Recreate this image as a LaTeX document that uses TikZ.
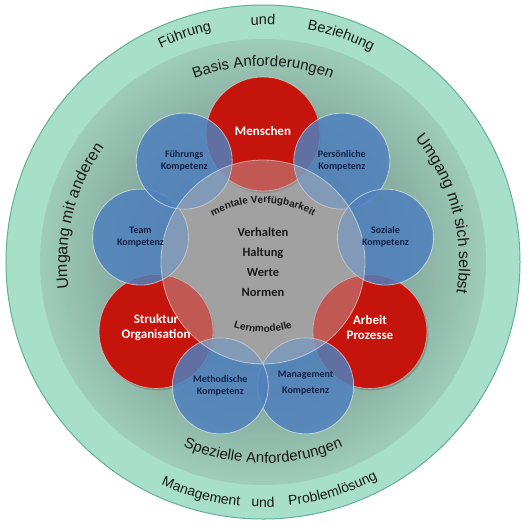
\documentclass[tikz,border=0pt]{standalone}
\usepackage{fontspec}
\newfontfamily\ringfont{Liberation Sans}
\newfontfamily\labelfont{Carlito}
\usepackage{xcolor}
\usepackage{tikz}
\usetikzlibrary{positioning}
\usetikzlibrary{decorations.text}

\definecolor{mintlight}{RGB}{168,223,203}
\definecolor{mintedge}{RGB}{98,176,150}
\definecolor{ringouter}{RGB}{158,204,187}
\definecolor{ringinner}{RGB}{122,156,143}
\definecolor{coregray}{RGB}{142,142,142}
\definecolor{coreveil}{RGB}{190,190,190}
\definecolor{redfill}{RGB}{196,20,12}
\definecolor{bluefill}{RGB}{79,129,189}
\definecolor{navytext}{RGB}{20,34,74}
\definecolor{ringtext}{RGB}{25,25,25}

\begin{document}
\begin{tikzpicture}[x=1pt,y=1pt,
  shadowcirc/.style={fill=black, fill opacity=0.18},
  redcirc/.style={fill=redfill, draw=white, draw opacity=0.45, line width=0.8pt},
  bluecirc/.style={fill=bluefill, fill opacity=0.85, draw=white, draw opacity=0.55, line width=0.8pt},
  redlabel/.style={font=\labelfont\bfseries\fontsize{13}{15}\selectfont, text=white, align=center},
  bluelabel/.style={font=\labelfont\bfseries\fontsize{10}{12}\selectfont, text=navytext, align=center},
  arctext/.style={decorate, decoration={text along path, text align=center, text={#1}}}]
  \useasboundingbox (-263,-261) rectangle (269,262);
  \fill[white] (-263,-261) rectangle (269,262);

  \coordinate (O) at (0,0);
  \def\outerradius{257}
  \def\midradius{223}
  \def\coreradius{102}
  \def\redradius{57}
  \def\blueradius{48}

  % rings
  \fill[mintlight] (O) circle[radius=\outerradius];
  \draw[mintedge, line width=1pt] (O) circle[radius=\outerradius];
  \foreach \k in {0,...,40} {
    \pgfmathsetmacro\rr{\midradius-\k*3}
    \pgfmathtruncatemacro\pc{100-\k*2.5}
    \fill[ringouter!\pc!ringinner] (O) circle[radius=\rr];
  }
  \fill[coregray] (O) circle[radius=\coreradius];

  % circle centres
  \path (O) ++(90:128) coordinate (K1);
  \path (O) ++(52:128) coordinate (K2);
  \path (O) ++(11.5:125) coordinate (K3);
  \path (O) ++(-33:127.5) coordinate (K4);
  \path (O) ++(-71:131) coordinate (K5);
  \path (O) ++(-109:131) coordinate (K6);
  \path (O) ++(-147:127.5) coordinate (K7);
  \path (O) ++(168.5:125) coordinate (K8);
  \path (O) ++(128:128) coordinate (K9);

  % shadows
  \fill[shadowcirc] ([shift={(1.5,-2)}]K1) circle[radius=\redradius];
  \fill[shadowcirc] ([shift={(1.5,-2)}]K4) circle[radius=\redradius];
  \fill[shadowcirc] ([shift={(1.5,-2)}]K7) circle[radius=\redradius];

  \filldraw[redcirc] (K1) circle[radius=\redradius];
  \filldraw[redcirc] (K4) circle[radius=\redradius];
  \filldraw[redcirc] (K7) circle[radius=\redradius];

  \filldraw[bluecirc] (K2) circle[radius=\blueradius];
  \filldraw[bluecirc] (K3) circle[radius=\blueradius];
  \filldraw[bluecirc] (K5) circle[radius=\blueradius];
  \filldraw[bluecirc] (K6) circle[radius=\blueradius];
  \filldraw[bluecirc] (K8) circle[radius=\blueradius];
  \filldraw[bluecirc] (K9) circle[radius=\blueradius];

  % core veil
  \filldraw[fill=coreveil, fill opacity=0.4, draw=white, draw opacity=0.5, line width=0.8pt]
    (O) circle[radius=\coreradius];

  % ring texts
  \path[arctext={|\ringfont\fontsize{14.5}{14.5}\selectfont\color{ringtext}|Führung}]
    (169:237) arc[start angle=169, end angle=49, radius=237];
  \path[arctext={|\ringfont\fontsize{14.5}{14.5}\selectfont\color{ringtext}|und}]
    (150:237) arc[start angle=150, end angle=30, radius=237];
  \path[arctext={|\ringfont\fontsize{14.5}{14.5}\selectfont\color{ringtext}|Beziehung}]
    (131:237) arc[start angle=131, end angle=11, radius=237];
  \path[arctext={|\ringfont\fontsize{15}{15}\selectfont\color{ringtext}|Basis Anforderungen}]
    (150:196) arc[start angle=150, end angle=30, radius=196];
  \path[arctext={|\ringfont\fontsize{16}{16}\selectfont\color{ringtext}|Umgang mit anderen}]
    (226:196) arc[start angle=226, end angle=106, radius=196];
  \path[arctext={|\ringfont\fontsize{16}{16}\selectfont\color{ringtext}|Umgang mit sich selbst}]
    (75:196) arc[start angle=75, end angle=-45, radius=196];
  \path[arctext={|\ringfont\fontsize{15}{15}\selectfont\color{ringtext}|Spezielle Anforderungen}]
    (210:201) arc[start angle=210, end angle=330, radius=201];
  \path[arctext={|\ringfont\fontsize{14}{14}\selectfont\color{ringtext}|Management}]
    (195:245) arc[start angle=195, end angle=315, radius=245];
  \path[arctext={|\ringfont\fontsize{14}{14}\selectfont\color{ringtext}|und}]
    (210:245) arc[start angle=210, end angle=330, radius=245];
  \path[arctext={|\ringfont\fontsize{14}{14}\selectfont\color{ringtext}|Problemlösung}]
    (227:245) arc[start angle=227, end angle=347, radius=245];

  % core texts
  \path[arctext={|\ringfont\bfseries\fontsize{10}{10}\selectfont\color{ringtext}|mentale Verfügbarkeit}]
    ([shift={(0,-44)}]150:103) arc[start angle=150, end angle=30, radius=103];
  \path[arctext={|\ringfont\bfseries\fontsize{10}{10}\selectfont\color{ringtext}|Lernmodelle}]
    ([shift={(0,30)}]210:100) arc[start angle=210, end angle=330, radius=100];
  \node[font=\labelfont\bfseries\fontsize{12.5}{20}\selectfont, text=ringtext, align=center]
    (V) at (O) {Verhalten\\Haltung\\Werte\\Normen};

  % labels
  \node[redlabel] (T1) at ([yshift=3]K1) {Menschen};
  \node[bluelabel] (T2) at (K2) {Persönliche\\Kompetenz};
  \node[bluelabel] (T3) at (K3) {Soziale\\Kompetenz};
  \node[redlabel] (T4) at ([yshift=4]K4) {Arbeit\\Prozesse};
  \node[bluelabel, font=\labelfont\bfseries\fontsize{10}{16}\selectfont] (T5) at ([yshift=3]K5) {Management\\Kompetenz};
  \node[bluelabel] (T6) at (K6) {Methodische\\Kompetenz};
  \node[redlabel] (T7) at ([yshift=4]K7) {Struktur\\Organisation};
  \node[bluelabel] (T8) at (K8) {Team\\Kompetenz};
  \node[bluelabel] (T9) at (K9) {Führungs\\Kompetenz};
\end{tikzpicture}
\end{document}
